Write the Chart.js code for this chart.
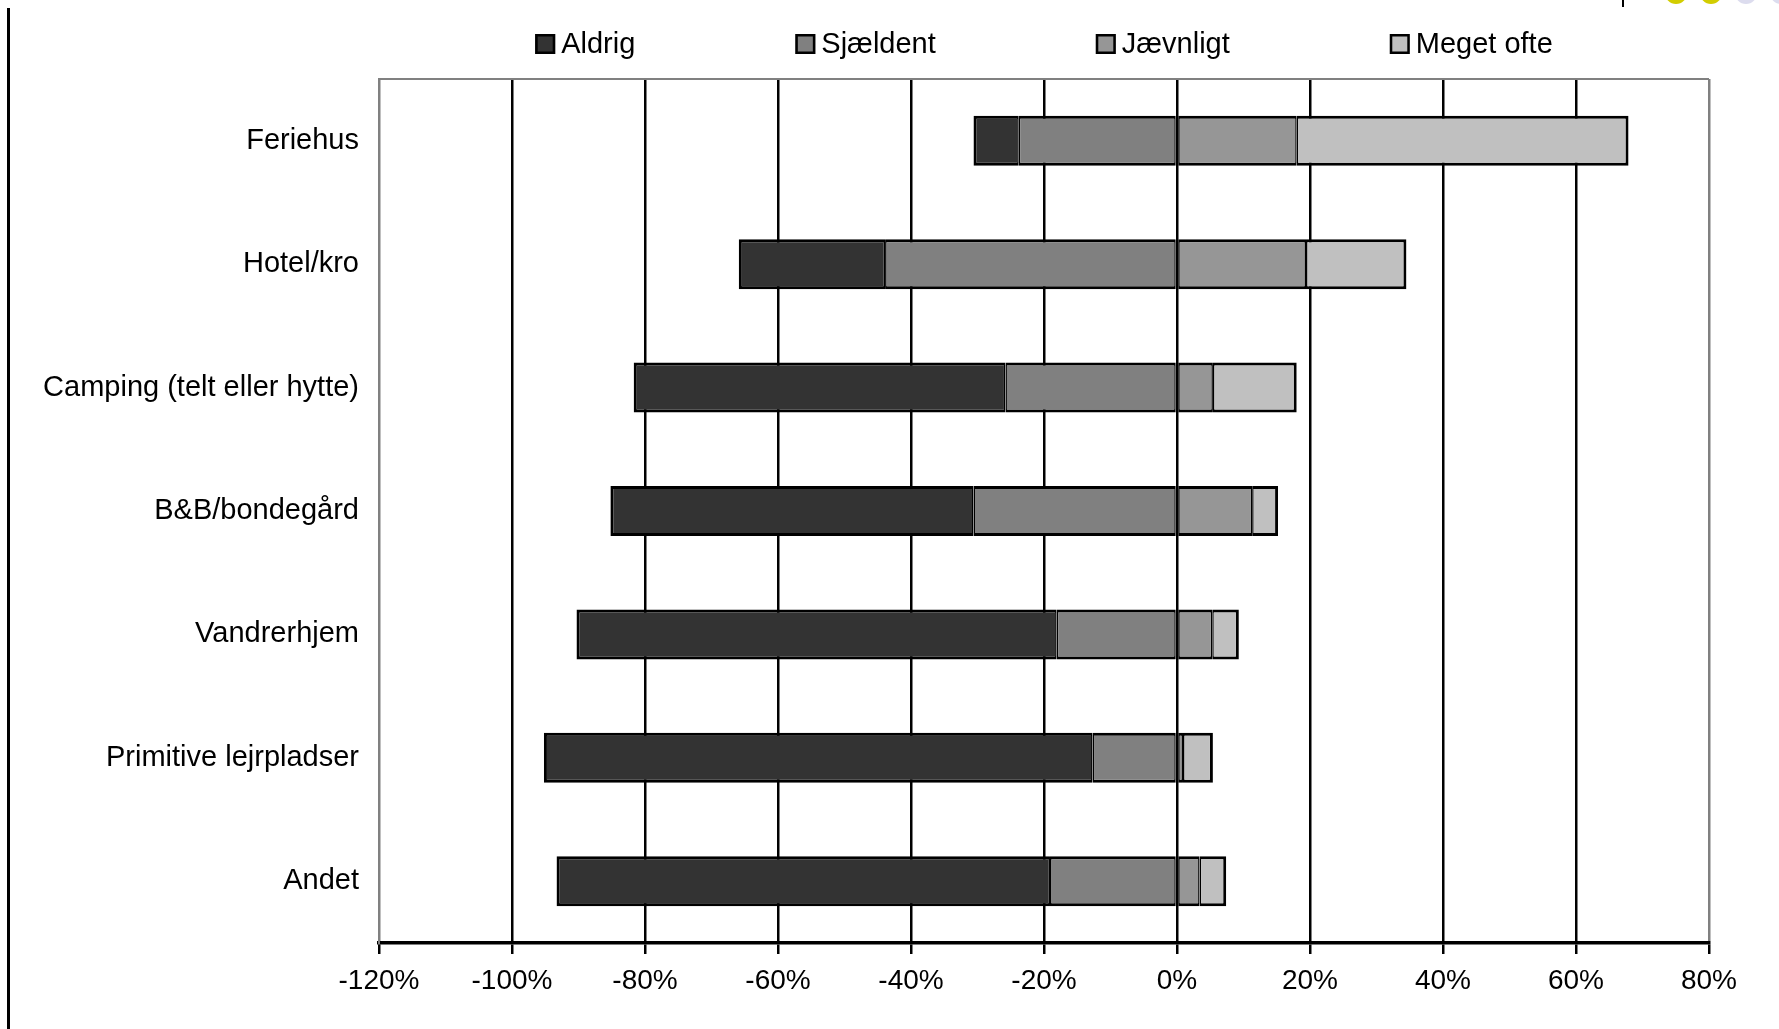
<!DOCTYPE html>
<html>
<head>
<meta charset="utf-8">
<script src="https://cdn.jsdelivr.net/npm/chart.js@4.4.0/dist/chart.umd.min.js"></script>
<style>
  html, body { margin: 0; padding: 0; background: #fff; overflow: hidden; }
  #wrap { position: relative; width: 1779px; height: 1029px; }
  #c { position: absolute; left: 0; top: 0; }
  .rule { position: absolute; background: #000; }
  .dot { position: absolute; border-radius: 50%; }
</style>
</head>
<body>
<div id="wrap">
  <canvas id="c" width="1779" height="1029"></canvas>
  <div class="rule" style="left:7px;top:8px;width:3px;height:1021px"></div>
  <div class="rule" style="left:1622px;top:0;width:2px;height:7px"></div>
  <div class="dot" style="left:1665px;top:-18px;width:22px;height:22px;background:#d2cd00"></div>
  <div class="dot" style="left:1700px;top:-18px;width:22px;height:22px;background:#d2cd00"></div>
  <div class="dot" style="left:1735px;top:-18px;width:22px;height:22px;background:#dcdcee"></div>
  <div class="dot" style="left:1770px;top:-18px;width:22px;height:22px;background:#dcdcee"></div>
</div>
<script>
// Overnatningsformer: hvor ofte benyttes de (andel i %)
const categories = [
  'Feriehus',
  'Hotel/kro',
  'Camping (telt eller hytte)',
  'B&B/bondegård',
  'Vandrerhjem',
  'Primitive lejrpladser',
  'Andet'
];
const seriesNames = ['Aldrig', 'Sjældent', 'Jævnligt', 'Meget ofte'];
const seriesColors = ['#333333', '#808080', '#969696', '#c0c0c0'];

const aldrig    = [6.8, 22.0, 55.9, 54.6, 72.2, 82.5, 74.2];
const sjaeldent = [23.8, 43.9, 25.8, 30.6, 18.1, 12.7, 19.1];
const jaevnligt = [18.0, 19.4, 5.4, 11.3, 5.3, 0.9, 3.4];
const megetOfte = [49.9, 15.1, 12.6, 3.9, 4.0, 4.5, 4.0];

const xTicks = [-120, -100, -80, -60, -40, -20, 0, 20, 40, 60, 80];

// "Aldrig" and "Sjældent" extend left of zero, the others to the right
const ranges = [
  categories.map((_, i) => [-(sjaeldent[i] + aldrig[i]), -sjaeldent[i]]),
  categories.map((_, i) => [-sjaeldent[i], 0]),
  categories.map((_, i) => [0, jaevnligt[i]]),
  categories.map((_, i) => [jaevnligt[i], jaevnligt[i] + megetOfte[i]])
];

const edgeWidths = [
  { top: 3, bottom: 3, left: 3, right: 1.5 },
  { top: 3, bottom: 3, left: 1.5, right: 1.5 },
  { top: 3, bottom: 3, left: 1.5, right: 1.5 },
  { top: 3, bottom: 3, left: 1.5, right: 3 }
];

const FONT = "'Liberation Sans', Arial, Helvetica, sans-serif";
Chart.defaults.font.family = FONT;
Chart.defaults.color = '#000';

const framePlugin = {
  id: 'frame',
  beforeDatasetsDraw(chart) {
    const a = chart.chartArea, ctx = chart.ctx;
    ctx.save();
    ctx.strokeStyle = '#808080';
    ctx.lineWidth = 2;
    ctx.beginPath();
    ctx.moveTo(a.left, a.top);
    ctx.lineTo(a.right, a.top);
    ctx.stroke();
    ctx.restore();
  }
};

const legendPlugin = {
  id: 'topLegend',
  afterDraw(chart) {
    const ctx = chart.ctx, a = chart.chartArea;
    const box = 20, gapText = 6, gapItem = 160, cy = 44;
    ctx.save();
    ctx.font = '29px ' + FONT;
    ctx.textBaseline = 'middle';
    ctx.textAlign = 'left';
    const widths = chart.data.datasets.map(d => box + gapText + ctx.measureText(d.label).width);
    const total = widths.reduce((s, w) => s + w, 0) + gapItem * (widths.length - 1);
    let x = (a.left + a.right) / 2 - total / 2;
    chart.data.datasets.forEach((d, i) => {
      ctx.fillStyle = d.backgroundColor;
      ctx.fillRect(x, cy - box / 2, box, box);
      ctx.strokeStyle = '#000';
      ctx.lineWidth = 2.5;
      ctx.strokeRect(x + 1.25, cy - box / 2 + 1.25, box - 2.5, box - 2.5);
      ctx.fillStyle = '#000';
      ctx.fillText(d.label, x + box + gapText, cy + 1);
      x += widths[i] + gapItem;
    });
    ctx.restore();
  }
};

new Chart(document.getElementById('c'), {
  type: 'bar',
  data: {
    labels: categories,
    datasets: seriesNames.map((name, k) => ({
      label: name,
      data: ranges[k],
      backgroundColor: seriesColors[k],
      borderColor: '#000',
      borderWidth: edgeWidths[k],
      borderSkipped: false,
      grouped: false,
      categoryPercentage: 1,
      barPercentage: 0.405
    }))
  },
  options: {
    indexAxis: 'y',
    responsive: false,
    animation: false,
    events: [],
    layout: { padding: { top: 79, right: 70, bottom: 0, left: 0 } },
    plugins: {
      legend: { display: false },
      tooltip: { enabled: false }
    },
    scales: {
      x: {
        type: 'linear',
        min: xTicks[0],
        max: xTicks[xTicks.length - 1],
        afterBuildTicks(scale) {
          scale.ticks = xTicks.map(v => ({ value: v }));
        },
        afterFit(scale) { scale.height = 86; },
        ticks: {
          font: { size: 28 },
          color: '#000',
          padding: 10,
          maxRotation: 0,
          callback: v => v + '%'
        },
        grid: {
          color: ctx => (ctx.tick && (ctx.tick.value === xTicks[0] || ctx.tick.value === xTicks[xTicks.length - 1])) ? '#808080' : '#000',
          lineWidth: 2.5,
          tickLength: 11,
          tickColor: '#000',
          tickWidth: 2.5
        },
        border: { display: true, color: '#000', width: 3.5 }
      },
      y: {
        type: 'category',
        offset: true,
        afterFit(scale) { scale.width = 379; },
        ticks: {
          font: { size: 29 },
          color: '#000',
          padding: 20
        },
        grid: { drawOnChartArea: false, drawTicks: false },
        border: { display: true, color: '#808080', width: 2 }
      }
    }
  },
  plugins: [framePlugin, legendPlugin]
});
</script>
</body>
</html>
